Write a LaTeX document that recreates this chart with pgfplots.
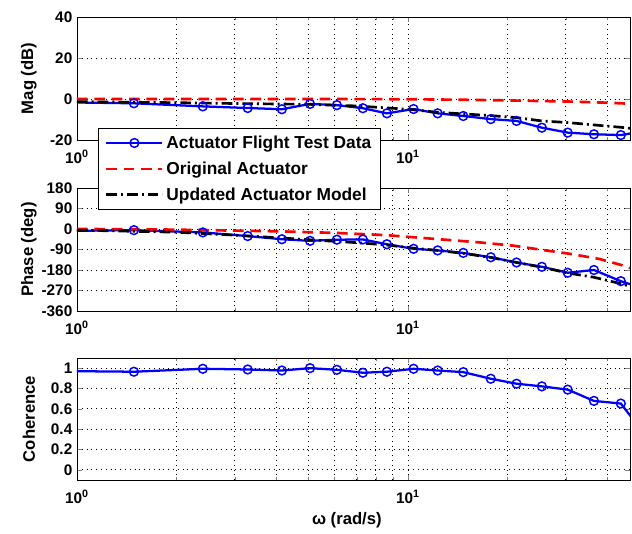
\documentclass[border=0pt]{standalone}
\usepackage{fontspec}
\setmainfont{Liberation Sans}
\usepackage{pgfplots}
\pgfplotsset{compat=1.18}

\definecolor{mblue}{rgb}{0,0,1}
\definecolor{mred}{rgb}{1,0,0}

\tikzset{
  testdata/.style={color=mblue, line width=1.7pt, mark=o, mark size=3.3pt,
    mark options={solid, line width=1.1pt}},
  original/.style={color=mred, line width=2pt, dash pattern=on 8pt off 5pt},
  updated/.style={color=black, line width=2pt,
    dash pattern=on 8pt off 3pt on 1.5pt off 3pt},
  gridline/.style={black, line width=0.6pt, dash pattern=on 0.6pt off 3pt},
}

\begin{document}
\begin{tikzpicture}
\useasboundingbox (0,0) rectangle (474pt,399.75pt);

% ---------------- magnitude ----------------
\begin{axis}[at={(57.75pt,294.75pt)}, anchor=south west,
  xmode=log, xmin=1, xmax=46.9,
  scale only axis, width=414.75pt, height=92.25pt,
  axis line style={black, line width=0.6pt},
  tick align=inside, major tick length=4pt, minor tick length=2.5pt,
  xtick={1,10}, xticklabels={10\textsuperscript{0},10\textsuperscript{1}},
  minor xtick={2,3,4,5,6,7,8,9,20,30,40},
  xmajorgrids, xminorgrids, ymajorgrids,
  major grid style={gridline}, minor grid style={gridline},
  ticklabel style={font=\fontsize{11.5}{13}\selectfont\bfseries},
  xticklabel style={yshift=-4pt},
  label style={font=\fontsize{12.5}{14}\selectfont\bfseries},
  ylabel style={at={(axis description cs:-0.087,0.5)}, anchor=center},
  ymin=-20, ymax=40, ytick={-20,0,20,40}, yticklabels={-20,0,20,40},
  ylabel={Mag (dB)}]
\addplot[testdata] coordinates {
 (0.6,-1.2) (1.486,-2.1) (2.40,-3.6) (3.28,-4.4) (4.16,-5.0) (5.06,-2.4)
 (6.10,-3.0) (7.31,-4.5) (8.64,-7.0) (10.4,-4.9) (12.3,-7.0) (14.7,-8.3)
 (17.8,-9.8) (21.3,-10.7) (25.4,-14.0) (30.4,-16.4) (36.5,-17.2)
 (44.0,-17.6) (52.5,-15.5)};
\addplot[original] coordinates {
 (1,0) (5,0) (10,-0.1) (15,-0.4) (20,-0.7) (30,-1.2) (40,-1.8) (46.9,-2.3)};
\addplot[updated] coordinates {
 (1,-1.3) (2,-1.8) (3,-2.2) (5,-2.6) (7,-3.4) (10,-5.0) (12.3,-6.5)
 (17.8,-8.1) (21.3,-9.1) (25.4,-10.7) (30.4,-11.5) (38,-12.9) (44,-13.8)
 (46.9,-14.3)};
\end{axis}

% ---------------- phase ----------------
\begin{axis}[at={(57.75pt,166.5pt)}, anchor=south west,
  xmode=log, xmin=1, xmax=46.9,
  scale only axis, width=414.75pt, height=92.25pt,
  axis line style={black, line width=0.6pt},
  tick align=inside, major tick length=4pt, minor tick length=2.5pt,
  xtick={1,10}, xticklabels={10\textsuperscript{0},10\textsuperscript{1}},
  minor xtick={2,3,4,5,6,7,8,9,20,30,40},
  xmajorgrids, xminorgrids, ymajorgrids,
  major grid style={gridline}, minor grid style={gridline},
  ticklabel style={font=\fontsize{11.5}{13}\selectfont\bfseries},
  xticklabel style={yshift=-4pt},
  label style={font=\fontsize{12.5}{14}\selectfont\bfseries},
  ylabel style={at={(axis description cs:-0.087,0.5)}, anchor=center},
  ymin=-360, ymax=180, ytick={-360,-270,-180,-90,0,90,180},
  yticklabels={-360,-270,-180,-90,0,90,180},
  ylabel={Phase (deg)},
  legend style={at={(axis description cs:0.038,1.488)}, anchor=north west,
    draw=black, line width=0.6pt, fill=white,
    font=\fontsize{13}{15}\selectfont\bfseries,
    inner xsep=5pt, inner ysep=3.5pt, row sep=4.5pt},
  legend cell align=left,
  legend image code/.code={\draw[mark repeat=2,mark phase=2,#1]
    plot coordinates {(0pt,0pt) (21pt,0pt) (42pt,0pt)};}]
\addplot[testdata] coordinates {
 (0.6,-12) (1.486,-5) (2.40,-15) (3.28,-31) (4.16,-45) (5.06,-52)
 (6.10,-47) (7.31,-46) (8.64,-67) (10.4,-87) (12.3,-94) (14.7,-105)
 (17.8,-124) (21.3,-147) (25.4,-166) (30.4,-192) (36.5,-180)
 (44.0,-229) (52.5,-265)};
\addlegendentry{Actuator Flight Test Data}
\addplot[original] coordinates {
 (1,0) (1.5,-1) (2,-3) (3,-7) (4,-10) (5,-14) (6,-17) (8.6,-27)
 (12.2,-44) (16.5,-59) (20.8,-73) (25.5,-92) (30.9,-109) (38,-132)
 (44.6,-160) (46.9,-172)};
\addlegendentry{Original Actuator}
\addplot[updated] coordinates {
 (1,-5) (2,-14) (3,-27) (4,-38) (5,-47) (6,-54) (7,-60) (8.6,-70)
 (10.4,-84) (12.3,-94) (14.7,-107) (17.8,-125) (21.3,-147) (25.4,-168)
 (30.4,-193) (36.5,-212) (44,-240) (46.9,-252)};
\addlegendentry{Updated Actuator Model}
\end{axis}

% ---------------- coherence ----------------
\begin{axis}[at={(57.75pt,39.75pt)}, anchor=south west,
  xmode=log, xmin=1, xmax=46.9,
  scale only axis, width=414.75pt, height=91.5pt,
  axis line style={black, line width=0.6pt},
  tick align=inside, major tick length=4pt, minor tick length=2.5pt,
  xtick={1,10}, xticklabels={10\textsuperscript{0},10\textsuperscript{1}},
  minor xtick={2,3,4,5,6,7,8,9,20,30,40},
  xmajorgrids, xminorgrids, ymajorgrids,
  major grid style={gridline}, minor grid style={gridline},
  ticklabel style={font=\fontsize{11.5}{13}\selectfont\bfseries},
  xticklabel style={yshift=-4pt},
  label style={font=\fontsize{12.5}{14}\selectfont\bfseries},
  ylabel style={at={(axis description cs:-0.087,0.5)}, anchor=center},
  ymin=-0.1, ymax=1.1, ytick={0,0.2,0.4,0.6,0.8,1},
  yticklabels={0,0.2,0.4,0.6,0.8,1},
  ylabel={Coherence},
  xlabel={ω (rad/s)},
  xlabel style={at={(axis description cs:0.488,-0.33)}, anchor=center}]
\addplot[testdata] coordinates {
 (0.6,0.977) (1.486,0.965) (2.40,0.994) (3.28,0.987) (4.16,0.977)
 (5.06,1.0) (6.10,0.984) (7.31,0.955) (8.64,0.965) (10.4,0.994)
 (12.3,0.977) (14.7,0.961) (17.8,0.896) (21.3,0.847) (25.4,0.821)
 (30.4,0.789) (36.5,0.678) (44.0,0.652) (52.5,0.33)};
\end{axis}
\end{tikzpicture}
\end{document}
